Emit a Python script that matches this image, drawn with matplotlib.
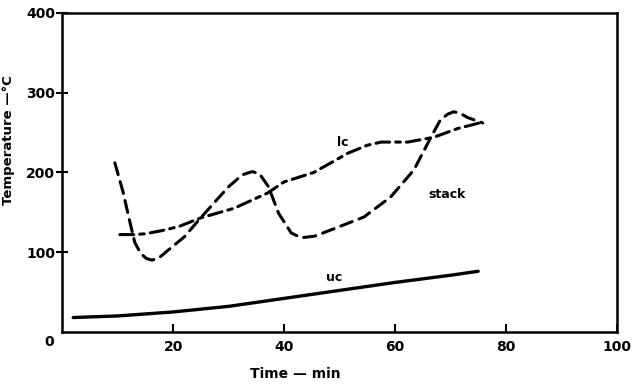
import matplotlib as mpl
import matplotlib.pyplot as plt

mpl.rcParams['font.family'] = 'DejaVu Sans'

# values (time in min, temperature in deg C)
uc_t = [2, 10, 20, 30, 40, 50, 60, 70, 75]
uc_T = [18, 20, 25, 32, 42, 52, 62, 71, 76]

lc_t = [10.4, 13, 15, 18, 21, 25, 31, 37, 40, 45.4, 51.5, 55, 57.5, 62.3, 67, 71.3, 75.8]
lc_T = [122, 122, 123, 127, 132, 143, 155, 174, 188, 200, 224, 234, 238, 238, 244, 255, 263]

stack_t = [9.5, 11, 12, 13.1, 14.2, 15.2, 16.2, 17.5, 19.2, 22, 25.1, 30, 32.5, 34.3, 35.6,
           37.2, 39, 41.3, 43.1, 45.5, 48.5, 54.4, 59.2, 63.4, 66.4, 68.2, 69.5, 70.6, 71.8,
           73, 75.8]
stack_T = [212, 175, 144, 112, 98, 92, 90, 93, 103, 119, 144, 182, 197, 201, 198,
           182, 149, 124, 118, 120, 128, 144, 169, 203, 243, 266, 273, 276, 274,
           269, 262]

xticks = [20, 40, 60, 80, 100]
yticks = [100, 200, 300, 400]

fig = plt.figure(figsize=(6.34, 3.9), dpi=100)
ax = fig.add_axes([0.098, 0.149, 0.875, 0.818])

ax.plot(uc_t, uc_T, color='black', lw=2.4, solid_capstyle='round')
ax.plot(lc_t, lc_T, color='black', lw=2.2, dashes=(4.5, 2, 1.5, 2), dash_capstyle='round')
ax.plot(stack_t, stack_T, color='black', lw=2.2, dashes=(4, 2.4), dash_capstyle='round')

ax.text(50.6, 237, 'lc', fontsize=9, fontweight='bold', ha='center', va='center')
ax.text(66, 172, 'stack', fontsize=9, fontweight='bold', ha='left', va='center')
ax.text(49, 68, 'uc', fontsize=9, fontweight='bold', ha='center', va='center')

ax.set_xlim(0, 100)
ax.set_ylim(0, 400)
ax.set_xticks(xticks)
ax.set_yticks(yticks)
ax.tick_params(axis='x', direction='in', length=6, width=1.5, labelsize=10, pad=6)
ax.tick_params(axis='y', direction='inout', length=8, width=1.5, labelsize=10, pad=1)
for lab in ax.get_xticklabels() + ax.get_yticklabels():
    lab.set_fontweight('bold')
for sp in ax.spines.values():
    sp.set_linewidth(1.8)

ax.text(-1.5, -4, '0', fontsize=10, fontweight='bold', ha='right', va='top')
ax.set_xlabel('Time — min', fontsize=10, fontweight='bold')
ax.set_ylabel('Temperature —°C', fontsize=9.5, fontweight='bold')
ax.xaxis.set_label_coords(0.42, -0.11)
ax.yaxis.set_label_coords(-0.085, 0.6)

fig.savefig('out.png', dpi=100)
